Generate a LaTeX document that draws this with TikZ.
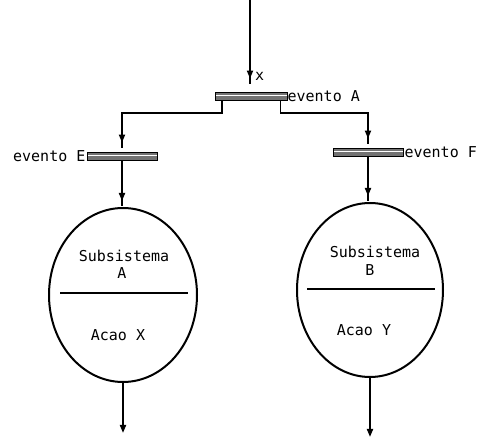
\documentclass[tikz,border=0pt]{standalone}
\usepackage{fontspec}
\newfontfamily\termfont{DejaVu Sans Mono}
\usetikzlibrary{arrows.meta,shapes.geometric,decorations.markings,calc}

\tikzset{
  lbl/.style={font=\termfont\fontsize{15}{18}\selectfont, inner sep=0pt},
  transbar/.style={draw, line width=0.8pt, fill=black!55, minimum height=8pt,
    inner sep=0pt,
    path picture={\draw[white, line width=1pt]
      (path picture bounding box.west) -- (path picture bounding box.east);}},
  subsys/.style={ellipse, draw, line width=2pt, minimum width=148pt,
    minimum height=174pt, inner sep=0pt, outer sep=0pt},
  tip/.style={-{Triangle[width=6pt,length=8pt]}},
  flow/.style={line width=1.8pt, decoration={markings,
    mark=at position -5pt with {\arrow{Triangle[width=6pt,length=8pt]}}},
    postaction={decorate}},
  flowend/.style={line width=1.8pt, tip},
  divider/.style={line width=1.8pt}
}

\begin{document}
\begin{tikzpicture}[x=1pt,y=-1pt]
\useasboundingbox (0,0) rectangle (480,446);

% transitions
\node[transbar, minimum width=72pt] (bA) at (251,96) {};
\node[transbar, minimum width=70pt] (bE) at (122,156) {};
\node[transbar, minimum width=70pt] (bF) at (368,152) {};

\node[lbl, anchor=west] (tA) at (bA.east) {evento A};
\node[lbl, anchor=east] (tE) at ($(bE.west)+(-1,0)$) {evento E};
\node[lbl, anchor=west] (tF) at ($(bF.east)+(1,0)$) {evento F};

% subsystems
\node[subsys] (sA) at (123,295) {};
\node[subsys, minimum width=146pt] (sB) at (370,290) {};

\node[lbl] (nA1) at (124,256) {Subsistema};
\node[lbl] (nA2) at (122,273) {A};
\node[lbl] (nA3) at (118,335) {Acao X};
\draw[divider] (60,293) -- (188,293);

\node[lbl] (nB1) at (375,252) {Subsistema};
\node[lbl] (nB2) at (370,270) {B};
\node[lbl] (nB3) at (364,330) {Acao Y};
\draw[divider] (307,289) -- (435,289);

% incoming arc
\coordinate (in) at (250,0);
\draw[flow] (in) -- ($(bA.north -| in)+(0,-8)$);
\node[lbl, anchor=west] (xl) at (255,76) {x};

% branches from evento A
\draw[flow] ($(bA.south west)+(7,0)$) -- ++(0,13) -| ($(bE.north)+(0,-4)$);
\draw[flow] ($(bA.south east)+(-7,0)$) -- ++(0,13) -| ($(bF.north)+(0,-4)$);

% into the subsystems
\draw[flow] (bE.south) -- ($(bE.south |- sA.north)+(0,-2)$);
\draw[flow] (bF.south) -- ($(bF.south |- sB.north)+(0,-2)$);

% outgoing arcs
\coordinate (oA) at (123,433);
\coordinate (oB) at (370,437);
\draw[flowend] (sA.south) -- (oA);
\draw[flowend] (sB.south) -- (oB);
\end{tikzpicture}
\end{document}
